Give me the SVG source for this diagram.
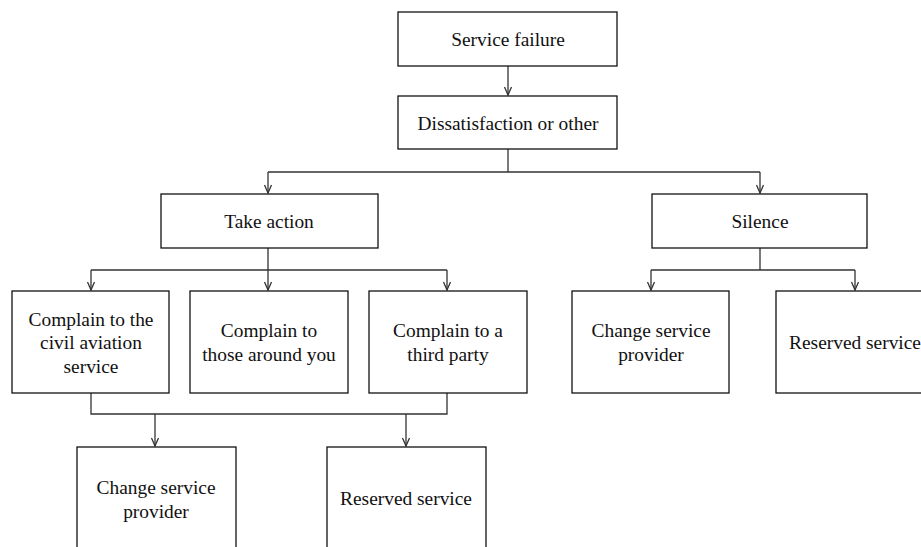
<svg xmlns="http://www.w3.org/2000/svg" width="921" height="547" viewBox="0 0 921 547">
<style>
  .box { fill: #fff; stroke: #111; stroke-width: 1.3; }
  .t { font-family: "Liberation Serif", "Times New Roman", serif; font-size: 19.4px; fill: #111; text-anchor: middle; }
  .c { fill: none; stroke: #333; stroke-width: 1.3; }
</style>
<defs>
  <marker id="arr" viewBox="0 0 10 10" refX="9" refY="5" markerWidth="10" markerHeight="10" markerUnits="userSpaceOnUse" orient="auto">
    <polyline points="1,1.5 9,5 1,8.5" fill="none" stroke="#333" stroke-width="1.3"/>
  </marker>
</defs>
<rect width="921" height="547" fill="#fff"/>
<g id="connectors">
  <path class="c" d="M508,66 V95" marker-end="url(#arr)"/>
  <path class="c" d="M508,149 V172 M268,172 H760"/>
  <path class="c" d="M268,172 V193" marker-end="url(#arr)"/>
  <path class="c" d="M760,172 V193" marker-end="url(#arr)"/>
  <path class="c" d="M268,248 V270 M91,270 H447"/>
  <path class="c" d="M91,270 V290" marker-end="url(#arr)"/>
  <path class="c" d="M268,270 V290" marker-end="url(#arr)"/>
  <path class="c" d="M447,270 V290" marker-end="url(#arr)"/>
  <path class="c" d="M760,248 V270 M651,270 H855"/>
  <path class="c" d="M651,270 V290" marker-end="url(#arr)"/>
  <path class="c" d="M855,270 V290" marker-end="url(#arr)"/>
  <path class="c" d="M91,393 V414 H447 V393"/>
  <path class="c" d="M155,414 V446" marker-end="url(#arr)"/>
  <path class="c" d="M406,414 V446" marker-end="url(#arr)"/>
</g>
<g id="service-failure">
  <rect class="box" x="398" y="12" width="219" height="54"/>
  <text class="t" x="508" y="46">Service failure</text>
</g>
<g id="dissatisfaction">
  <rect class="box" x="398" y="96" width="219" height="53"/>
  <text class="t" x="508" y="130">Dissatisfaction or other</text>
</g>
<g id="take-action">
  <rect class="box" x="161" y="194" width="217" height="54"/>
  <text class="t" x="269" y="228">Take action</text>
</g>
<g id="silence">
  <rect class="box" x="652" y="194" width="215" height="54"/>
  <text class="t" x="760" y="228">Silence</text>
</g>
<g id="complain-civil">
  <rect class="box" x="12" y="291" width="157" height="102"/>
  <text class="t" x="91" y="326">Complain to the</text>
  <text class="t" x="91" y="349">civil aviation</text>
  <text class="t" x="91" y="373">service</text>
</g>
<g id="complain-around">
  <rect class="box" x="190" y="291" width="158" height="102"/>
  <text class="t" x="269" y="337">Complain to</text>
  <text class="t" x="269" y="361">those around you</text>
</g>
<g id="complain-third">
  <rect class="box" x="369" y="291" width="158" height="102"/>
  <text class="t" x="448" y="337">Complain to a</text>
  <text class="t" x="448" y="361">third party</text>
</g>
<g id="silence-change">
  <rect class="box" x="572" y="291" width="157" height="102"/>
  <text class="t" x="651" y="337">Change service</text>
  <text class="t" x="651" y="361">provider</text>
</g>
<g id="silence-reserved">
  <rect class="box" x="776" y="291" width="157" height="102"/>
  <text class="t" x="855" y="349">Reserved service</text>
</g>
<g id="action-change">
  <rect class="box" x="77" y="447" width="159" height="110"/>
  <text class="t" x="156" y="494">Change service</text>
  <text class="t" x="156" y="518">provider</text>
</g>
<g id="action-reserved">
  <rect class="box" x="327" y="447" width="159" height="110"/>
  <text class="t" x="406" y="505">Reserved service</text>
</g>
</svg>
